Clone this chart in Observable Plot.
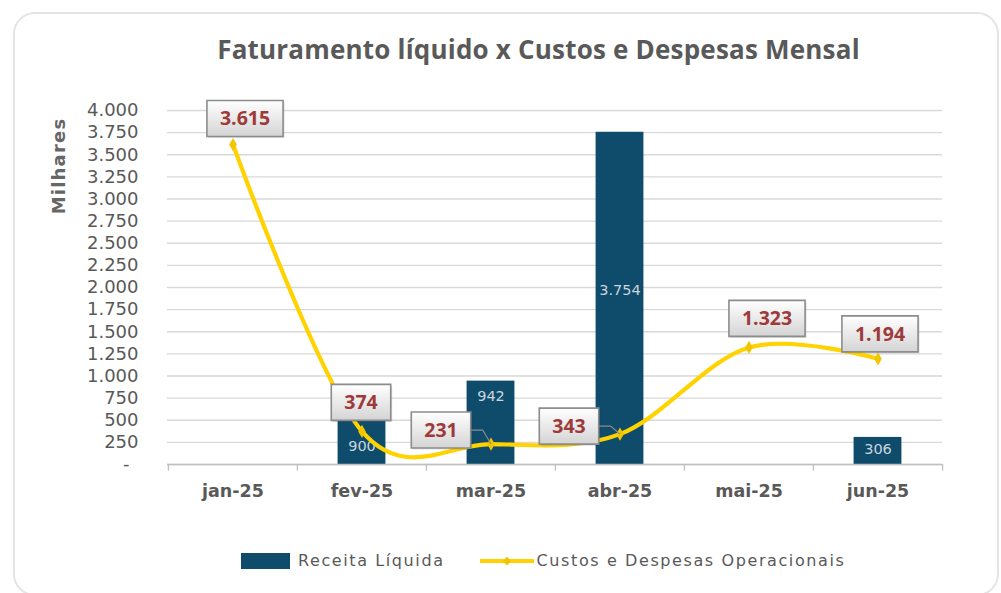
<!DOCTYPE html>
<html>
<head>
<meta charset="utf-8">
<script src="https://cdn.jsdelivr.net/npm/d3@7"></script>
<script src="https://cdn.jsdelivr.net/npm/@observablehq/plot@0.6"></script>
<style>
  html, body { margin: 0; padding: 0; background: #fff; }
  #wrap { position: relative; width: 1001px; height: 593px; overflow: hidden; font-family: "DejaVu Sans", sans-serif; }
  #card { position: absolute; left: 13px; top: 12px; width: 986px; height: 584px; border: 2px solid #e4e4e4; border-radius: 22px; box-sizing: border-box; }
  #title { position: absolute; left: 0; width: 1077px; top: 31px; text-align: center; font-family: "Open Sans", sans-serif; font-size: 26px; font-weight: 700; color: #595959; letter-spacing: 0.2px; white-space: nowrap; }
  #chart { position: absolute; left: 0; top: 0; }
  #legend { position: absolute; top: 551px; left: 241px; display: flex; align-items: center; font-size: 16px; color: #595959; letter-spacing: 1.6px; white-space: nowrap; }
  .sw { display: inline-block; width: 49px; height: 16px; background: #0f4c6b; margin-right: 8px; }
  .ln { display: inline-block; width: 54px; height: 16px; margin-left: 35px; margin-right: 3px; }
</style>
</head>
<body>
<div id="wrap">
  <div id="card"></div>
  <div id="title">Faturamento líquido x Custos e Despesas Mensal</div>
  <div id="chart"></div>
  <div id="legend">
    <span class="sw"></span><span>Receita Líquida</span>
    <span class="ln"><svg width="54" height="16"><line x1="0" y1="8" x2="54" y2="8" stroke="#ffd200" stroke-width="4"/><path d="M27,3.5 L31,8 L27,12.5 L23,8 Z" fill="#f5c400"/></svg></span><span>Custos e Despesas Operacionais</span>
  </div>
</div>
<script>
const months = ["jan-25", "fev-25", "mar-25", "abr-25", "mai-25", "jun-25"];
const receita = [null, 900, 942, 3754, null, 306];
const custos = [3615, 374, 231, 343, 1323, 1194];
const yTicks = [0, 250, 500, 750, 1000, 1250, 1500, 1750, 2000, 2250, 2500, 2750, 3000, 3250, 3500, 3750, 4000];

// label layout offsets (pixels, relative to each point)
const custosLabelDx = [12, -1, -50, -51, 18, 2];
const custosLabelDy = [-26, -29, -14, -8, -29, -25];
const receitaLabelDy = [0, 62, 15, 158, 0, 12];

const fmt = v => v === 0 ? "-\u2002" : d3.format(",")(v).replace(/,/g, ".");

const barData = months.map((m, i) => ({m, v: receita[i], dy: receitaLabelDy[i]})).filter(d => d.v != null);
const lineData = months.map((m, i) => ({m, v: custos[i], dx: custosLabelDx[i], dy: custosLabelDy[i]}));

const W = 1001, H = 593;
const ml = 167, mr = 59, mt = 110, mb = 129;
const step = (W - ml - mr) / months.length;
const barW = 48;
const inset = (step - barW) / 2;

const labelFont = "bold 19.5px 'Open Sans'";
const ctx = document.createElement("canvas").getContext("2d");
ctx.font = labelFont;
const boxH = 36, padX = 13;

function rectSymbol(w, h) {
  return {draw(c) { c.rect(-w / 2, -h / 2, w, h); }};
}
function leaderSymbol(dx, dy, hw) {
  return {draw(c) { c.moveTo(dx + hw, dy); c.lineTo(dx + hw + 12, dy); c.lineTo(0, 0); }};
}

const boxMarks = [];
lineData.forEach(d => {
  const txt = fmt(d.v);
  const w = ctx.measureText(txt).width + 2 * padX;
  const one = [d];
  if (d.dx < -20) {
    boxMarks.push(Plot.dot(one, {x: "m", y: "v", symbol: leaderSymbol(d.dx, d.dy, w / 2), fill: "none", stroke: "#8c8c8c", strokeWidth: 1.2}));
  }
  boxMarks.push(Plot.dot(one, {x: "m", y: "v", symbol: rectSymbol(w, boxH), dx: d.dx + 1.5, dy: d.dy + 1.5, fill: "#000", fillOpacity: 0.12, stroke: "none"}));
  boxMarks.push(Plot.dot(one, {x: "m", y: "v", symbol: rectSymbol(w, boxH), dx: d.dx, dy: d.dy, fill: "url(#boxg)", stroke: "#8c8c8c", strokeWidth: 1.6}));
  boxMarks.push(Plot.text(one, {x: "m", y: "v", text: e => fmt(e.v), dx: d.dx, dy: d.dy + 0.5, fill: "#9e3a3a", fontSize: 19.5, fontWeight: "bold", fontFamily: "Open Sans"}));
});

const barLabelMarks = barData.map(d => Plot.text([d], {x: "m", y: "v", text: e => fmt(e.v), dy: d.dy, fill: "#c9d5de", fontSize: 14.5, fontFamily: "DejaVu Sans"}));

const plot = Plot.plot({
  width: W, height: H,
  marginLeft: ml, marginRight: mr, marginTop: mt, marginBottom: mb,
  style: {fontFamily: "DejaVu Sans, sans-serif", background: "transparent", overflow: "visible"},
  x: {domain: months, padding: 0, label: null},
  y: {domain: [0, 4000], label: null},
  marks: [
    Plot.ruleY(yTicks, {stroke: "#d9d9d9", strokeWidth: 1.3}),
    Plot.axisY({ticks: yTicks, tickFormat: fmt, tickSize: 0, tickPadding: 29, fontSize: 18, fill: "#595959", label: null}),
    Plot.axisX({tickSize: 0, tickPadding: 20, fontSize: 17.5, fontWeight: "bold", fill: "#595959", label: null}),
    Plot.barY(barData, {x: "m", y: "v", fill: "#0f4c6b", insetLeft: inset, insetRight: inset}),
    Plot.ruleX(months, {x: d => d, y1: 0, y2: -75, dx: -step / 2, stroke: "#bfbfbf", strokeWidth: 1.3}),
    Plot.ruleX([months[5]], {x: d => d, y1: 0, y2: -75, dx: step / 2, stroke: "#bfbfbf", strokeWidth: 1.3}),
    Plot.ruleY([0], {stroke: "#bfbfbf", strokeWidth: 1.3}),
    ...barLabelMarks,
    Plot.lineY(lineData, {x: "m", y: "v", stroke: "#ffd200", strokeWidth: 4.2, curve: "cardinal"}),
    Plot.dot(lineData, {x: "m", y: "v", symbol: "diamond", r: 4, fill: "#f5c400"}),
    ...boxMarks
  ]
});

document.getElementById("chart").appendChild(plot);
const svg = d3.select(plot);

const defs = svg.insert("defs", ":first-child");
const g = defs.append("linearGradient").attr("id", "boxg").attr("x1", 0).attr("y1", 0).attr("x2", 0).attr("y2", 1);
g.append("stop").attr("offset", "0%").attr("stop-color", "#ffffff");
g.append("stop").attr("offset", "100%").attr("stop-color", "#d4d4d4");

svg.append("text").attr("transform", "translate(60,166) rotate(-90)").attr("text-anchor", "middle")
  .attr("dominant-baseline", "middle")
  .attr("font-size", 18).attr("fill", "#666").attr("font-weight", "bold").attr("letter-spacing", 1.2)
  .attr("font-family", "DejaVu Sans, sans-serif").text("Milhares");
</script>
</body>
</html>
